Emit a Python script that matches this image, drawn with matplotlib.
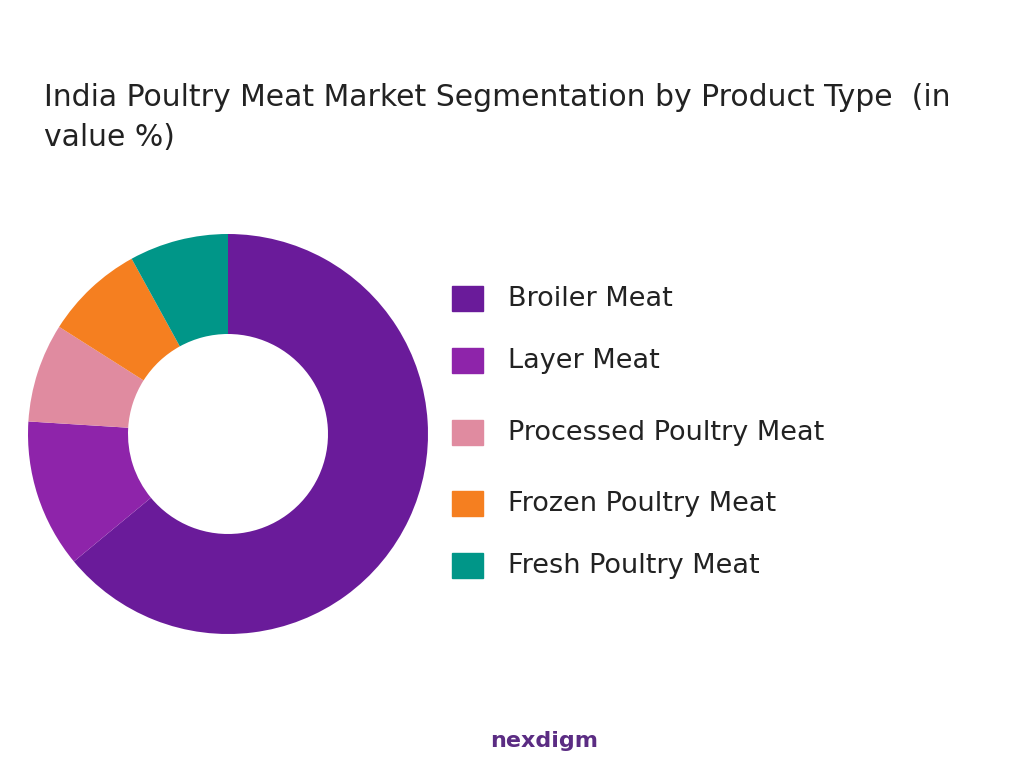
import matplotlib
matplotlib.use("Agg")
import matplotlib.pyplot as plt

categories = ["Broiler Meat", "Layer Meat", "Processed Poultry Meat", "Frozen Poultry Meat", "Fresh Poultry Meat"]
values = [64, 12, 8, 8, 8]
colors = ["#6A1B9A", "#8E24AA", "#E08BA0", "#F57F20", "#009688"]

plt.rcParams['font.family'] = ['DejaVu Sans']
fig = plt.figure(figsize=(10.24, 7.68), dpi=100)
ax = fig.add_axes([(228-202)/1024, 1-(434+202)/768, 404/1024, 404/768])
ax.pie(values, colors=colors, startangle=90, counterclock=False,
       wedgeprops=dict(width=0.5, edgecolor='none'), radius=1.0)
ax.set_xlim(-1.01, 1.01); ax.set_ylim(-1.01, 1.01)
ax.set_aspect('equal')

fig.text(44/1024, 1-98/768, "India Poultry Meat Market Segmentation by Product Type  (in", fontsize=21.5, color="#222222", va='center')
fig.text(44/1024, 1-138/768, "value %)", fontsize=21.5, color="#222222", va='center')

ys = [299, 361, 433, 504, 566]
for c, col, y in zip(categories, colors, ys):
    fig.patches.append(plt.Rectangle((452/1024, 1-(y+12)/768), 31/1024, 25/768, color=col, transform=fig.transFigure))
    fig.text(508/1024, 1-y/768, c, fontsize=19.5, color="#222222", va='center')

fig.text(490/1024, 1-741/768, "nexdigm", fontsize=16, color="#5B2C83", fontweight='bold', va='center')
fig.savefig("out.png", dpi=100, facecolor='white')
